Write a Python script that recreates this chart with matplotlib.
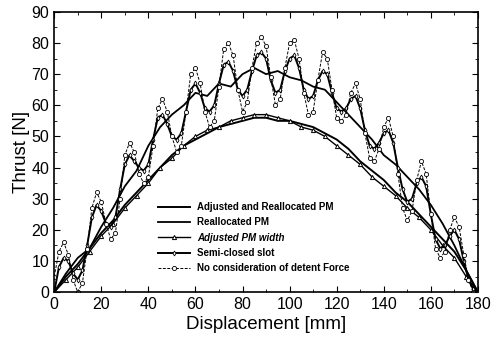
import numpy as np
import matplotlib
matplotlib.use('Agg')
import matplotlib.pyplot as plt

plt.rcParams['font.family'] = ['Liberation Sans', 'DejaVu Sans']

# Displacement grids [mm]
x_fine = np.arange(0, 181, 2)
x_coarse = np.arange(0, 181, 5)

# No consideration of detent force (big ripple)
no_detent = [5, 13, 16, 12, 4, 0, 3, 14, 27, 32, 29, 22, 17, 19, 30, 44, 48, 45, 38, 35,
             37, 47, 59, 62, 58, 50, 45, 47, 58, 70, 72, 67, 58, 53, 55, 66, 78, 80, 76, 65,
             58, 61, 72, 80, 82, 79, 69, 60, 62, 72, 80, 81, 75, 64, 57, 58, 68, 77, 75, 65,
             56, 55, 57, 64, 67, 62, 51, 43, 42, 46, 53, 56, 50, 38, 27, 23, 26, 36, 42, 38,
             25, 14, 11, 13, 20, 24, 21, 12, 4, 0, 0]

# Semi-closed slot (medium ripple)
semi_closed = [0, 8, 11, 10, 6, 4, 7, 15, 24, 28, 26, 22, 21, 24, 33, 41, 44, 42, 40, 39,
               41, 49, 56, 57, 54, 50, 49, 51, 58, 65, 67, 64, 59, 58, 60, 67, 73, 74, 71, 65,
               63, 65, 71, 76, 77, 75, 68, 64, 65, 71, 75, 76, 72, 65, 62, 63, 68, 71, 70, 64,
               59, 58, 59, 62, 63, 59, 52, 47, 46, 48, 51, 52, 48, 40, 33, 29, 30, 35, 37, 34,
               25, 17, 14, 15, 18, 20, 17, 10, 4, 1, 0]

# Reallocated PM
reallocated = [0, 6, 11, 14, 21, 27, 34, 39, 47, 53, 57, 60, 64, 63, 67, 66, 70, 72, 70,
               71, 69, 68, 66, 65, 61, 57, 53, 49, 44, 41, 37, 33, 28, 22, 15, 7, 0]

# Adjusted and Reallocated PM
adj_realloc = [0, 5, 9, 14, 19, 23, 28, 32, 36, 40, 44, 47, 49, 51, 53, 54, 55, 56, 56,
               55, 55, 54, 53, 51, 49, 46, 42, 39, 36, 32, 29, 25, 21, 17, 13, 7, 0]

# Adjusted PM width
adj_width = [0, 4, 8, 13, 18, 22, 27, 31, 35, 40, 43, 47, 50, 52, 53, 55, 56, 57, 57,
             56, 55, 53, 52, 50, 47, 44, 41, 37, 34, 31, 27, 24, 20, 15, 11, 5, 0]

fig = plt.figure(figsize=(5.02, 3.49), dpi=100)
ax = fig.add_axes([0.108, 0.163, 0.844, 0.803])

ax.plot(x_coarse, adj_realloc, color='black', lw=1.4, label='Adjusted and Reallocated PM')
ax.plot(x_coarse, reallocated, color='black', lw=1.3, label='Reallocated PM')
ax.plot(x_coarse, adj_width, color='black', lw=1.0, marker='^', ms=3, mfc='white',
        mew=0.7, label='Adjusted PM width')
ax.plot(x_fine, semi_closed, color='black', lw=1.4, marker='d', ms=2.5, mfc='white',
        mew=0.6, label='Semi-closed slot')
ax.plot(x_fine, no_detent, color='black', lw=0.7, ls=(0, (3, 1.5)), marker='o', ms=3,
        mfc='white', mew=0.6, label='No consideration of detent Force')

ax.set_xlim(0, 180)
ax.set_ylim(0, 90)
ax.set_xticks(np.arange(0, 181, 20))
ax.set_yticks(np.arange(0, 91, 10))
ax.set_xticks(np.arange(0, 181, 10), minor=True)
ax.set_yticks(np.arange(0, 91, 5), minor=True)
ax.tick_params(which='both', direction='in', top=True, right=True, labelsize=11.5)
ax.tick_params(which='major', length=4)
ax.tick_params(which='minor', length=2)
for s in ax.spines.values():
    s.set_linewidth(1.2)

ax.set_xlabel('Displacement [mm]', fontsize=13.5, labelpad=3)
ax.set_ylabel('Thrust [N]', fontsize=13.5, labelpad=1)

leg = ax.legend(loc='upper left', bbox_to_anchor=(0.305, 0.435), bbox_transform=fig.transFigure,
                frameon=False, prop={'size': 7, 'weight': 'bold'}, handlelength=3.3,
                handletextpad=0.7, labelspacing=0.55, borderpad=0)
leg.get_texts()[2].set_style('italic')

fig.savefig('out.png', dpi=100)
